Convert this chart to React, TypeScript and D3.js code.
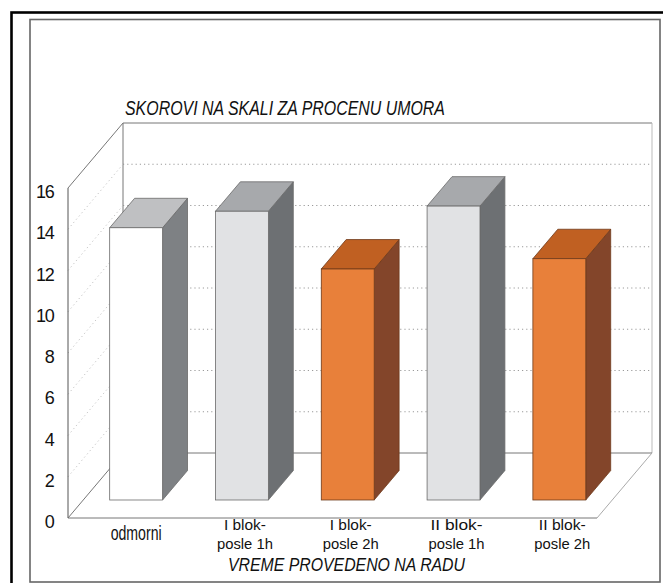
import React from "react";
import * as d3 from "d3";

// Chart data
const categories = ["odmorni", "I blok-posle 1h", "I blok-posle 2h", "II blok-posle 1h", "II blok-posle 2h"];
const labelLines = [["odmorni"], ["I blok-", "posle 1h"], ["I blok-", "posle 2h"], ["II  blok-", "posle 1h"], ["II blok-", "posle 2h"]];
const values = [13.2, 14.0, 11.2, 14.25, 11.7];
const yTicks = [0, 2, 4, 6, 8, 10, 12, 14, 16];
const chartTitle = "SKOROVI NA SKALI ZA PROCENU UMORA";
const xTitle = "VREME PROVEDENO NA RADU";

type Palette = { front: string; top: string; side: string; stroke: string };
const whiteBar: Palette = { front: "#ffffff", top: "#bfc0c2", side: "#7e8184", stroke: "#6a6a6a" };
const grayBar: Palette = { front: "#e1e2e4", top: "#a7a9ac", side: "#6d7073", stroke: "#6a6a6a" };
const orangeBar: Palette = { front: "#e8803a", top: "#c06022", side: "#83452a", stroke: "#6e3a1a" };
const barPalettes = [whiteBar, grayBar, orangeBar, grayBar, orangeBar];

// Layout of the 3D box
const W = 663;
const H = 583;
const floorLeft = 68;
const floorRight = 597;
const depthX = 55;
const depthY = 65;
const barFrontDepth = 0.277;
const barBackDepth = 0.73;

const FONT = "'Liberation Sans', Arial, sans-serif";

export default function App() {
  const y = d3.scaleLinear().domain([0, 16]).range([518, 188]);
  const x = d3.scaleBand<string>().domain(categories).range([floorLeft, floorRight]).paddingInner(0.5).paddingOuter(0.25);

  // project a point (px on front floor plane, value v) to depth fraction f
  const px = (xv: number, f: number) => xv + depthX * f;
  const py = (v: number, f: number) => y(v) - depthY * f;

  const backL = px(floorLeft, 1);
  const backR = px(floorRight, 1);
  const backTop = py(16, 1);
  const backBot = py(0, 1);

  const gridVals = yTicks.filter((t) => t > 0 && t < 16);
  const bw = x.bandwidth();
  const bdx = depthX * (barBackDepth - barFrontDepth);
  const bdy = depthY * (barBackDepth - barFrontDepth);

  return (
    <svg width={W} height={H} style={{ position: "absolute", left: 0, top: 0, background: "#fff" }}>
      {/* frames */}
      <rect x={11.5} y={12.5} width={720} height={720} fill="none" stroke="#000" strokeWidth={2.6} />
      <rect x={30} y={19.5} width={630} height={562.5} fill="#fff" stroke="#666" strokeWidth={1.6} />

      {/* title */}
      <text x={125} y={115} fontFamily={FONT} fontStyle="italic" fontSize={19.5} fill="#111" textLength={320} lengthAdjust="spacingAndGlyphs">
        {chartTitle}
      </text>

      {/* back wall */}
      <rect x={backL} y={backTop} width={backR - backL} height={backBot - backTop} fill="#fff" stroke="none" />
      {gridVals.map((v) => (
        <line key={"bg" + v} x1={backL} x2={backR} y1={py(v, 1)} y2={py(v, 1)} stroke="#9a9a9a" strokeWidth={1} strokeDasharray="1.2,3" />
      ))}
      <line x1={backL} x2={backR} y1={backTop} y2={backTop} stroke="#777" strokeWidth={1} />
      <line x1={backL} x2={backL} y1={backTop} y2={backBot} stroke="#777" strokeWidth={1} />
      <line x1={backR} x2={backR} y1={backTop} y2={backBot} stroke="#bbb" strokeWidth={1} />
      <line x1={backL} x2={backR} y1={backBot} y2={backBot} stroke="#777" strokeWidth={1} />

      {/* left wall */}
      {gridVals.map((v) => (
        <line key={"lg" + v} x1={floorLeft} y1={y(v)} x2={backL} y2={py(v, 1)} stroke="#c4c4c4" strokeWidth={1} strokeDasharray="1.2,3" />
      ))}
      <line x1={floorLeft} y1={y(16)} x2={backL} y2={backTop} stroke="#777" strokeWidth={1} />
      <line x1={floorLeft} y1={y(0)} x2={backL} y2={backBot} stroke="#777" strokeWidth={1} />
      <line x1={floorLeft} x2={floorLeft} y1={y(16)} y2={y(0)} stroke="#555" strokeWidth={1} />

      {/* floor */}
      <line x1={floorLeft} x2={floorRight} y1={y(0)} y2={y(0)} stroke="#777" strokeWidth={1} />
      <line x1={floorRight} y1={y(0)} x2={backR} y2={backBot} stroke="#aaa" strokeWidth={1} />

      {/* bars */}
      {categories.map((c, i) => {
        const p = barPalettes[i];
        const x0 = px(x(c) as number, barFrontDepth);
        const x1 = x0 + bw;
        const yTop = py(values[i], barFrontDepth);
        const yBot = py(0, barFrontDepth);
        const top = [[x0, yTop], [x0 + bdx, yTop - bdy], [x1 + bdx, yTop - bdy], [x1, yTop]];
        const side = [[x1, yTop], [x1 + bdx, yTop - bdy], [x1 + bdx, yBot - bdy], [x1, yBot]];
        const pts = (a: number[][]) => a.map((q) => q.join(",")).join(" ");
        return (
          <g key={c}>
            <polygon points={pts(side)} fill={p.side} stroke={p.stroke} strokeWidth={0.8} strokeLinejoin="round" />
            <polygon points={pts(top)} fill={p.top} stroke={p.stroke} strokeWidth={0.8} strokeLinejoin="round" />
            <rect x={x0} y={yTop} width={bw} height={yBot - yTop} fill={p.front} stroke={p.stroke} strokeWidth={0.8} />
          </g>
        );
      })}

      {/* y tick labels */}
      {yTicks.map((t) => (
        <text key={"t" + t} x={53.5} y={y(t) + 4} textAnchor="end" dominantBaseline="central" fontFamily={FONT} fontSize={18} fill="#111" letterSpacing={-1.3}>
          {t}
        </text>
      ))}

      {/* category labels */}
      {categories.map((c, i) => {
        const cx = px((x(c) as number) + bw / 2, barFrontDepth) + (i === 0 ? 0 : 3);
        const lines = labelLines[i];
        if (lines.length === 1) {
          return (
            <text key={"l" + c} x={cx} y={540} textAnchor="middle" fontFamily={FONT} fontSize={19.5} fill="#111" textLength={51} lengthAdjust="spacingAndGlyphs">
              {lines[0]}
            </text>
          );
        }
        const w1 = [0, 42, 42, 52, 47][i];
        return (
          <g key={"l" + c}>
            <text x={cx} y={530} textAnchor="middle" fontFamily={FONT} fontSize={15.5} fill="#111" textLength={w1} lengthAdjust="spacingAndGlyphs">
              {lines[0]}
            </text>
            <text x={cx} y={548.5} textAnchor="middle" fontFamily={FONT} fontSize={15.5} fill="#111" textLength={56} lengthAdjust="spacingAndGlyphs">
              {lines[1]}
            </text>
          </g>
        );
      })}

      {/* x axis title */}
      <text x={228} y={570.5} fontFamily={FONT} fontStyle="italic" fontSize={19} fill="#111" textLength={237} lengthAdjust="spacingAndGlyphs">
        {xTitle}
      </text>
    </svg>
  );
}
